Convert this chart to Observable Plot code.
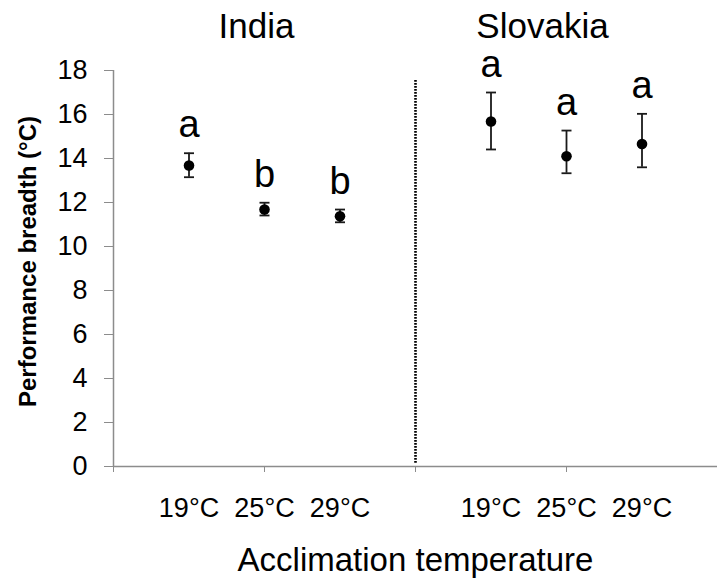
<!DOCTYPE html>
<html><head><meta charset="utf-8">
<script src="https://cdn.jsdelivr.net/npm/d3@7"></script>
<script src="https://cdn.jsdelivr.net/npm/@observablehq/plot@0.6"></script>
<style>body{margin:0;background:#fff}</style>
</head><body><div id="chart"></div>
<script>
const countries = ["India", "Slovakia"];
const temperatures = ["19°C", "25°C", "29°C"];
const means = [13.68, 11.68, 11.37, 15.68, 14.10, 14.66];
const lower = [13.15, 11.41, 11.10, 14.41, 13.33, 13.60];
const upper = [14.24, 11.99, 11.68, 17.00, 15.27, 16.03];
const letters = ["a", "b", "b", "a", "a", "a"];
const yTicks = [0, 2, 4, 6, 8, 10, 12, 14, 16, 18];
const dividerTop = 17.6;

const slot = temperatures.length + 1;
const data = means.map((m, i) => {
  const g = Math.floor(i / temperatures.length), j = i % temperatures.length;
  return {country: countries[g], temp: temperatures[j], pos: g * slot + j + 1,
          mean: m, lo: lower[i], hi: upper[i], letter: letters[i]};
});
const groupTicks = d3.range(0, 2 * slot, 2);

const cap = {draw(ctx, size) { const r = Math.sqrt(size / Math.PI); ctx.moveTo(-r, 0); ctx.lineTo(r, 0); }};
const axisGray = "#8c8c8c";

const chart = Plot.plot({
  width: 719, height: 581,
  marginLeft: 113, marginRight: 2, marginTop: 70, marginBottom: 115,
  x: {domain: [0, 2 * slot]},
  y: {domain: [0, 18]},
  style: {fontFamily: "'Liberation Sans', Arial, sans-serif", background: "#fff", overflow: "visible"},
  marks: [
    Plot.axisY({ticks: yTicks, tickSize: 9, tickPadding: 17, fontSize: 27, stroke: axisGray, fill: "#000", label: null}),
    Plot.axisX({ticks: groupTicks, tickSize: 6, tickFormat: () => "", stroke: axisGray, label: null}),
    Plot.ruleX([0], {y1: 0, y2: 18, stroke: axisGray, strokeWidth: 1.5}),
    Plot.ruleY([0], {stroke: axisGray, strokeWidth: 1.5}),
    Plot.ruleX([slot], {y1: 0.15, y2: dividerTop, stroke: "#000", strokeWidth: 2.6, strokeDasharray: "1.6,1.4"}),
    Plot.ruleX(data, {x: "pos", y1: "lo", y2: "hi", stroke: "#1a1a1a", strokeWidth: 1.8}),
    Plot.dot(data, {x: "pos", y: "hi", symbol: cap, r: 5, stroke: "#1a1a1a", strokeWidth: 1.8}),
    Plot.dot(data, {x: "pos", y: "lo", symbol: cap, r: 5, stroke: "#1a1a1a", strokeWidth: 1.8}),
    Plot.dot(data, {x: "pos", y: "mean", r: 5.3, fill: "#000"}),
    Plot.text(data, {x: "pos", y: "hi", text: "letter", lineAnchor: "bottom", dy: -16, fontSize: 38}),
    Plot.text(data, {x: "pos", text: "temp", frameAnchor: "bottom", lineAnchor: "top", dy: 31, fontSize: 27}),
    Plot.text([countries[0]], {x: () => 2, text: d => d, frameAnchor: "top", lineAnchor: "bottom", dy: -33, dx: -8, fontSize: 35}),
    Plot.text([countries[1]], {x: () => slot + 2, text: d => d, frameAnchor: "top", lineAnchor: "bottom", dy: -33, dx: -24, fontSize: 35}),
    Plot.text(["Performance breadth (°C)"], {text: d => d, frameAnchor: "left", textAnchor: "middle", rotate: -90, lineAnchor: "bottom", dx: -78, dy: -7, fontSize: 24, fontWeight: "bold"}),
    Plot.text(["Acclimation temperature"], {text: d => d, frameAnchor: "bottom", lineAnchor: "bottom", dy: 104, fontSize: 33})
  ]
});
document.getElementById("chart").appendChild(chart);
</script>
</body></html>
